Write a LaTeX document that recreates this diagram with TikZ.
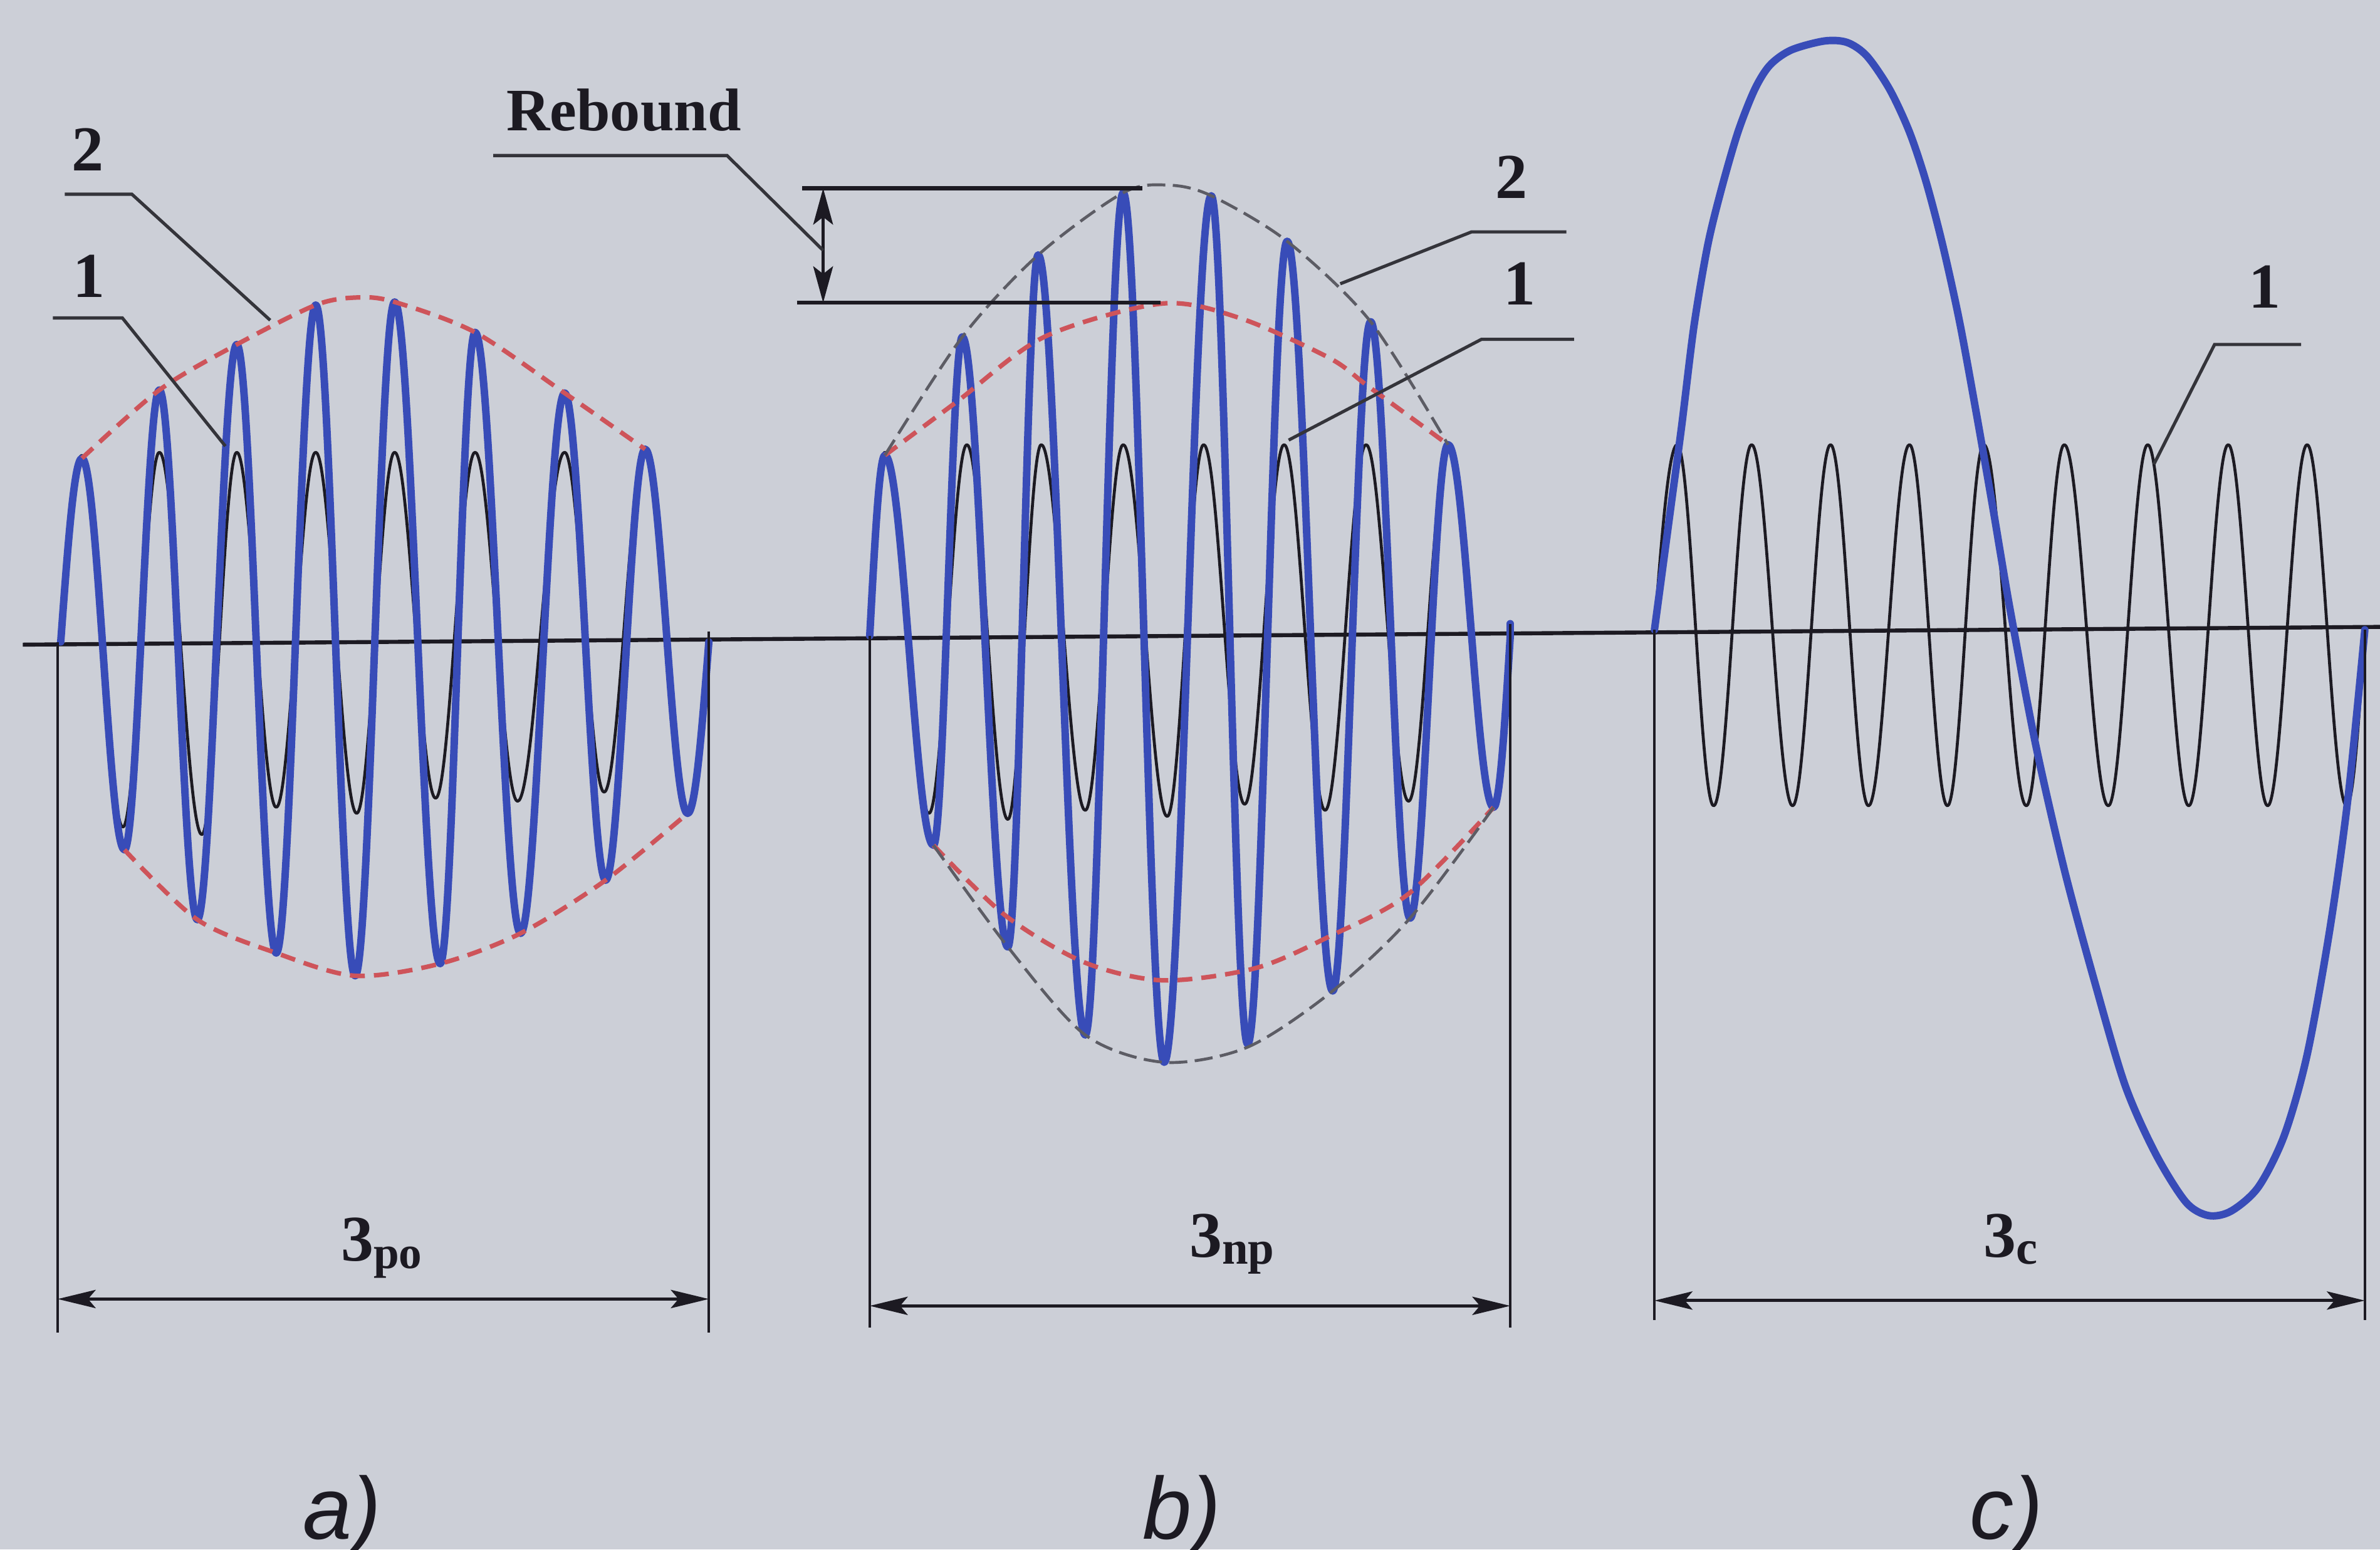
\documentclass[tikz,border=0pt]{standalone}
\usepackage{fontspec}
\setmainfont{Liberation Serif}
\newfontfamily\panelfont{Liberation Sans}
\usetikzlibrary{arrows.meta}
\definecolor{bgc}{RGB}{204,207,215}
\definecolor{wblue}{RGB}{56,76,184}
\definecolor{wred}{RGB}{206,84,90}
\definecolor{wgray}{RGB}{92,92,100}
\definecolor{ink}{RGB}{28,26,34}
\definecolor{leadc}{RGB}{52,52,58}
% oscillation through extrema: #1 style, #2 axis y, #3 start x, #4 list x/y (last point on axis)
\newcommand\osc[4]{%
  \draw[#1] (#3,#2) \foreach \x/\y [remember=\x as \px (initially #3),
      remember=\y as \py (initially #2)] in {#4}
    { .. controls ({\px+ifthenelse(\py==#2,0.33,0.364)*(\x-\px)},{\py+ifthenelse(\py==#2,0.52,0)*(\y-\py)})
         and ({\x-ifthenelse(\y==#2,0.33,0.364)*(\x-\px)},{\y+ifthenelse(\y==#2,0.52,0)*(\py-\y)}) .. (\x,\y) };}
\begin{document}
\begin{tikzpicture}[x=0.1mm,y=-0.1mm,
  bluewave/.style={draw=wblue,line width=1.4pt,line cap=round,line join=round},
  blackwave/.style={draw=ink,line width=0.55pt,line cap=round,line join=round},
  redenv/.style={draw=wred,line width=0.85pt,dash pattern=on 2.8pt off 1.7pt},
  grayenv/.style={draw=wgray,line width=0.55pt,dash pattern=on 3.4pt off 1.4pt},
  axisline/.style={draw=ink,line width=0.75pt},
  dimline/.style={draw=ink,line width=0.5pt},
  dimarrow/.style={draw=ink,line width=0.6pt,arrows={Stealth[length=2.5mm,width=1.2mm,inset=0.5mm]-Stealth[length=2.5mm,width=1.2mm,inset=0.5mm]}},
  leaderline/.style={draw=leadc,line width=0.6pt},
  reblines/.style={draw=ink,line width=0.75pt},
  numlabel/.style={text=ink,font=\bfseries\fontsize{12}{12}\selectfont,inner sep=0pt,anchor=base},
  dimlabel/.style={text=ink,font=\bfseries\fontsize{12.2}{12.2}\selectfont,inner sep=0pt,anchor=base west},
  panellabel/.style={text=ink,font=\panelfont\itshape\fontsize{16.5}{16.5}\selectfont,inner sep=0pt,anchor=base west}
]
\useasboundingbox (0,0) rectangle (1568,1021);
\fill[bgc] (0,0) rectangle (1568,1021);

% axis
\coordinate (axL) at (15,424.8);
\coordinate (axR) at (1568,413.1);
\draw[axisline] (axL) -- (axR);

% ---------------- panel a ----------------
\osc{blackwave}{423}{40}{54/300, 81/545, 105/298, 133/550, 156/298, 182/532, 208/298, 235/536, 260/298, 287/526, 313/298, 341/528, 372/298, 398/522, 425/297, 453/534, 467/423}
\osc{bluewave}{423}{40}{54/302, 82/560, 105/257, 130/606, 156/227, 182/628, 208/201, 234/643, 260/199, 290/635, 313/219, 343/615, 372/259, 399/580, 425/296, 453/536, 467/423}
\draw[redenv] plot[smooth] coordinates {(54,302) (105,257) (156,227) (208,201) (236,196) (260,199) (313,219) (372,259) (425,296)};
\draw[redenv] plot[smooth] coordinates {(82,560) (130,606) (182,628) (234,643) (290,635) (343,615) (399,580) (453,536)};
\coordinate (aL0) at (38,423); \coordinate (aL1) at (38,878);
\coordinate (aR0) at (467,416); \coordinate (aR1) at (467,878);
\draw[dimline] (aL0) -- (aL1);
\draw[dimline] (aR0) -- (aR1);
\coordinate (aA0) at (38,856); \coordinate (aA1) at (467,856);
\draw[dimarrow] (aA0) -- (aA1);
\node[dimlabel] (da) at (224,831) {3\raisebox{-1.4pt}{\fontsize{8.6}{8.6}\selectfont po}};
\node[panellabel] (pa) at (199,1014) {a)};
\node[numlabel] (la2) at (58,112.5) {2};
\node[numlabel] (la1) at (58.5,196) {1};
\coordinate (la2s) at (42.7,128); \coordinate (la2k) at (86.9,128); \coordinate (la2t) at (178,211);
\coordinate (la1s) at (34.8,209.5); \coordinate (la1k) at (80.6,209.5); \coordinate (la1t) at (148.5,294);
\draw[leaderline] (la2s) -- (la2k) -- (la2t);
\draw[leaderline] (la1s) -- (la1k) -- (la1t);

% ---------------- panel b ----------------
\osc{blackwave}{419}{573}{583/298, 612/536, 637/293, 664/540, 686/293, 715/534, 740/293, 769/538, 793/293, 820/530, 846/293, 873/534, 900/293, 928/528, 954/295, 983/532, 995/419}
\osc{bluewave}{419}{573}{583/300, 615/557, 634/222, 664/624, 684/168, 715/682, 740/127, 767/700, 798/129, 822/688, 848/159, 878/653, 903/212, 929/605, 954/293, 984/532, 995/419}
\draw[bluewave] (995,419) -- (995,411);
\draw[redenv] plot[smooth] coordinates {(583,300) (630,265) (688,222) (766,200) (818,210) (876,236) (902,255) (954,293)};
\draw[redenv] plot[smooth] coordinates {(615,557) (662,603) (714,634) (766,646) (827,638) (876,617) (928,589) (984,532)};
\draw[grayenv] plot[smooth] coordinates {(583,300) (634,222) (684,168) (740,127) (770,122) (798,129) (848,159) (903,212) (954,293)};
\draw[grayenv] plot[smooth] coordinates {(615,557) (664,624) (715,682) (767,700) (822,690) (878,653) (929,605) (984,532)};
\coordinate (bL0) at (573,419); \coordinate (bL1) at (573,875);
\coordinate (bR0) at (995,411); \coordinate (bR1) at (995,875);
\draw[dimline] (bL0) -- (bL1);
\draw[dimline] (bR0) -- (bR1);
\coordinate (bA0) at (573,860.5); \coordinate (bA1) at (995,860.5);
\draw[dimarrow] (bA0) -- (bA1);
\node[dimlabel] (db) at (783,828.5) {3\raisebox{-1.2pt}{\fontsize{8.8}{8.8}\selectfont np}};
\node[panellabel] (pb) at (752,1014) {b)};
\node[numlabel] (lb2) at (996,130.5) {2};
\node[numlabel] (lb1) at (1001,201) {1};
\coordinate (lb2e) at (1032,152.8); \coordinate (lb2k) at (969.5,152.8); \coordinate (lb2t) at (883,187);
\coordinate (lb1e) at (1037,223.6); \coordinate (lb1k) at (976,223.6); \coordinate (lb1t) at (849,290);
\draw[leaderline] (lb2e) -- (lb2k) -- (lb2t);
\draw[leaderline] (lb1e) -- (lb1k) -- (lb1t);
% rebound
\node[text=ink,font=\bfseries\fontsize{11.3}{11.3}\selectfont,inner sep=0pt,anchor=base west] (reb) at (333,86) {Rebound};
\coordinate (rU0) at (528.6,124); \coordinate (rU1) at (752.7,124);
\coordinate (rD0) at (525,199.5); \coordinate (rD1) at (764.6,199.5);
\draw[reblines] (rU0) -- (rU1);
\draw[reblines] (rD0) -- (rD1);
\coordinate (rA0) at (542.3,124); \coordinate (rA1) at (542.3,199.5);
\draw[draw=ink,line width=0.6pt,arrows={Stealth[length=2.4mm,width=1.3mm,inset=0.5mm]-Stealth[length=2.4mm,width=1.3mm,inset=0.5mm]}] (rA0) -- (rA1);
\coordinate (rbs) at (325,102.5); \coordinate (rbk) at (479,102.5); \coordinate (rbt) at (542.3,165);
\draw[leaderline] (rbs) -- (rbk) -- (rbt);

% ---------------- panel c ----------------
\osc{blackwave}{415}{1090}{1105/293, 1129/531, 1154/293, 1181/531, 1206/293, 1231/531, 1258/293, 1283/531, 1307/293, 1335/531, 1360/293, 1389/531, 1415/293, 1442/531, 1468/293, 1494/531, 1520/293, 1546/531, 1558/415}
\draw[bluewave] plot[smooth,tension=0.5] coordinates {(1090,415) (1100,340) (1108,280) (1116,215) (1125,162) (1134,125) (1145,87) (1156,59) (1166,43) (1180,33) (1202,27) (1217,28) (1230,37) (1245,59) (1258,87) (1269,120) (1280,162) (1291,212) (1302,272) (1313,335) (1324,400) (1341,490) (1360,573) (1380,647) (1400,715) (1420,760) (1440,792) (1455,801) (1470,798) (1488,782) (1505,748) (1520,695) (1535,612) (1547,525) (1558,415)};
\coordinate (cL0) at (1090,415); \coordinate (cL1) at (1090,870);
\coordinate (cR0) at (1558,415); \coordinate (cR1) at (1558,870);
\draw[dimline] (cL0) -- (cL1);
\draw[dimline] (cR0) -- (cR1);
\coordinate (cA0) at (1090,857); \coordinate (cA1) at (1558,857);
\draw[dimarrow] (cA0) -- (cA1);
\node[dimlabel] (dc) at (1306,828.5) {3\raisebox{-1.2pt}{\fontsize{9}{9}\selectfont c}};
\node[panellabel] (pc) at (1297,1014) {c)};
\node[numlabel] (lc1) at (1492,203) {1};
\coordinate (lc1e) at (1516,227); \coordinate (lc1k) at (1459,227); \coordinate (lc1t) at (1419,306);
\draw[leaderline] (lc1e) -- (lc1k) -- (lc1t);
\end{tikzpicture}
\end{document}
